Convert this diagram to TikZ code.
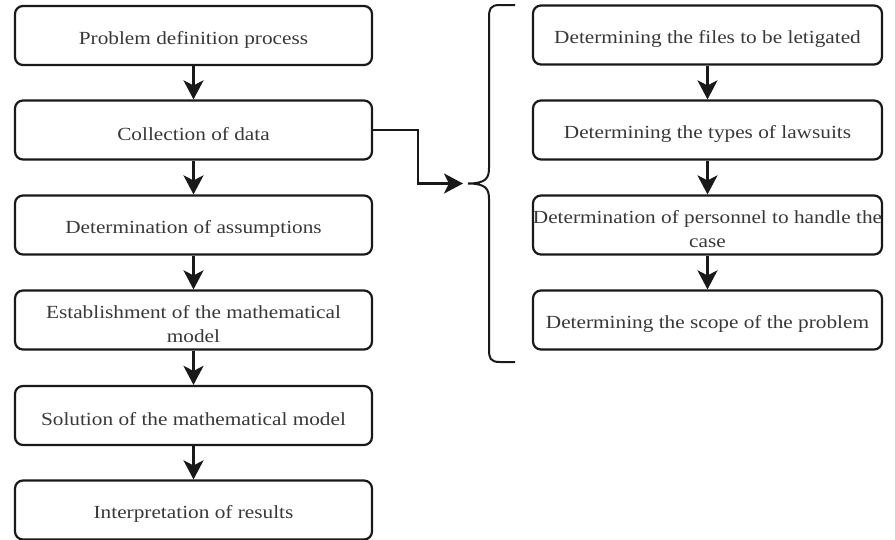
\documentclass[tikz,border=0pt]{standalone}
\usepackage{fontspec}
\setmainfont{Liberation Serif}[FakeStretch=1.15]
\usetikzlibrary{arrows.meta}
\begin{document}
\begin{tikzpicture}[x=1pt,y=-1pt,
  stepbox/.style={draw=black!90,line width=2.2pt,rounded corners=8pt,fill=white,
    minimum height=59pt,inner sep=0pt},
  lbox/.style={stepbox,minimum width=357pt},
  rbox/.style={stepbox,minimum width=349pt},
  txt/.style={align=center,text=black!78,inner sep=0pt,
    font=\fontsize{18.5}{23.5}\selectfont},
  conn/.style={line width=2.2pt,draw=black!90,-{Stealth[length=19pt,width=20pt,inset=5pt]}}]
\fill[white] (0,0) rectangle (895,539);
\useasboundingbox (0,0) rectangle (895,539);
% left column
\node[lbox] (a1) at (193.5,35.5) {};
\node[lbox] (a2) at (193.5,130) {};
\node[lbox] (a3) at (193.5,225) {};
\node[lbox] (a4) at (193.5,320) {};
\node[lbox] (a5) at (193.5,415.5) {};
\node[lbox] (a6) at (193.5,510) {};
\node[txt] (ta1) at ([yshift=-4pt]a1.center) {Problem definition process};
\node[txt] (ta2) at ([yshift=-4pt]a2.center) {Collection of data};
\node[txt] (ta3) at ([yshift=-4pt]a3.center) {Determination of assumptions};
\node[txt] (ta4) at ([yshift=-4pt]a4.center) {Establishment of the mathematical\\model};
\node[txt] (ta5) at ([yshift=-4pt]a5.center) {Solution of the mathematical model};
\node[txt] (ta6) at ([yshift=-4pt]a6.center) {Interpretation of results};
% right column
\node[rbox] (b1) at (707.5,35) {};
\node[rbox] (b2) at (707.5,130) {};
\node[rbox] (b3) at (707.5,225) {};
\node[rbox] (b4) at (707.5,320) {};
\node[txt] (tb1) at ([yshift=-4pt]b1.center) {Determining the files to be letigated};
\node[txt] (tb2) at ([yshift=-4pt]b2.center) {Determining the types of lawsuits};
\node[txt] (tb3) at ([yshift=-4pt]b3.center) {Determination of personnel to handle the\\case};
\node[txt] (tb4) at ([yshift=-4pt]b4.center) {Determining the scope of the problem};
% arrows
\draw[conn] (a1) -- (a2);
\draw[conn] (a2) -- (a3);
\draw[conn] (a3) -- (a4);
\draw[conn] (a4) -- (a5);
\draw[conn] (a5) -- (a6);
\draw[conn] (b1) -- (b2);
\draw[conn] (b2) -- (b3);
\draw[conn] (b3) -- (b4);
% brace
\coordinate (tip) at (468,183.5);
\coordinate (btop) at (515,5);
\coordinate (bbot) at (515,362);
\draw[line width=2pt,draw=black!90]
  (btop) -- (500,5) .. controls (490,5) and (489,9) .. (489,18)
  -- (489,168) .. controls (489,178) and (486,183.5) .. (tip)
  .. controls (486,183.5) and (489,189) .. (489,199)
  -- (489,349) .. controls (489,358) and (490,362) .. (500,362) -- (bbot);
% connector from a2 to brace
\coordinate (turn) at (418,130);
\draw[conn] (a2.east) -- (turn) |- ([xshift=-5pt]tip);
\end{tikzpicture}
\end{document}
